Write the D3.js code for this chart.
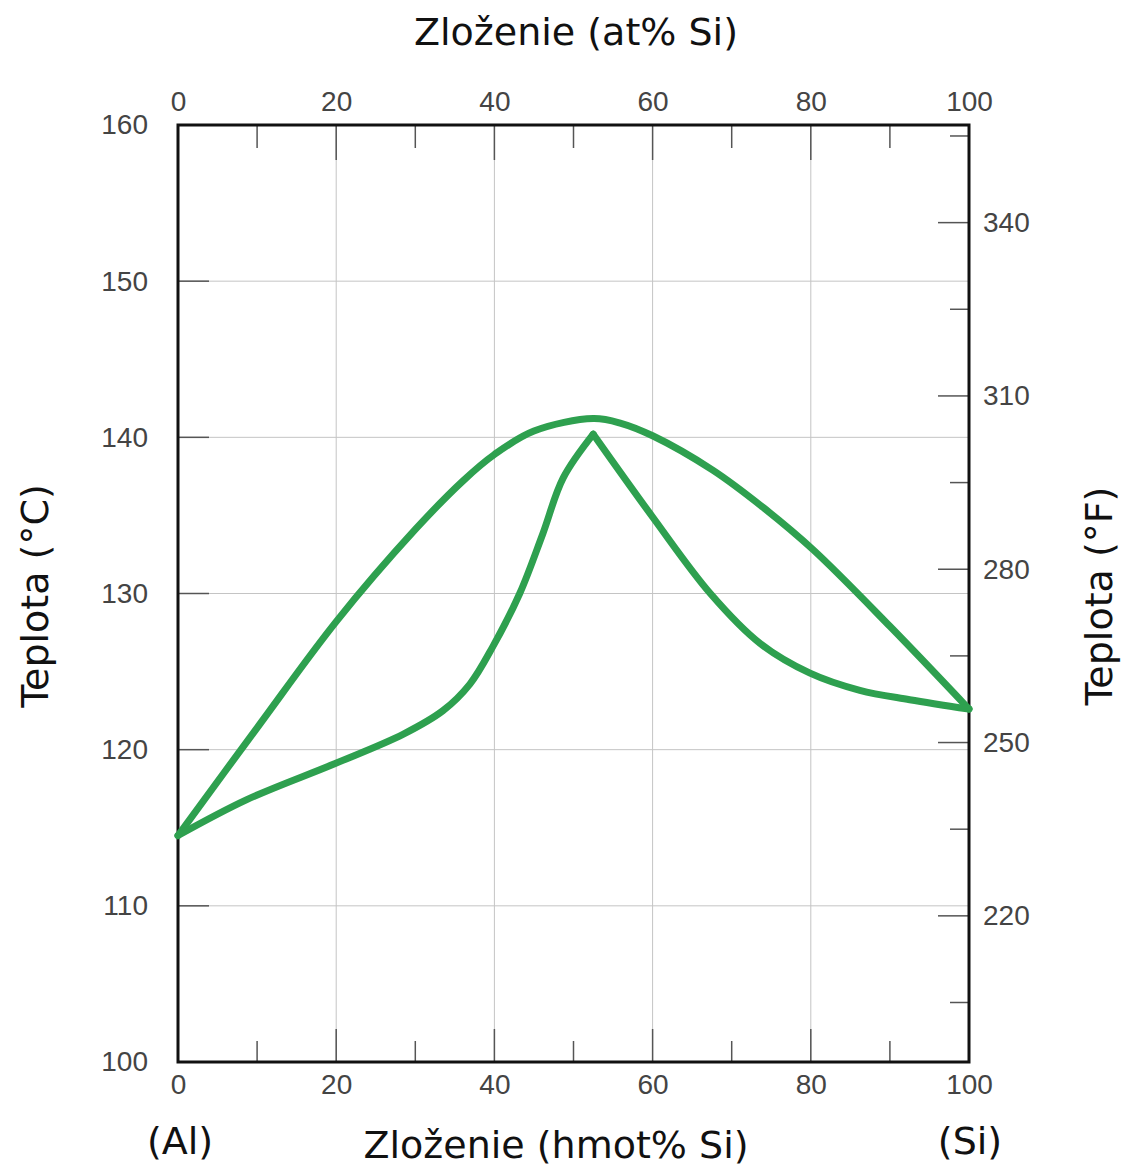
<!DOCTYPE html>
<html>
<head>
<meta charset="utf-8">
<title>Al-Si diagram</title>
<script src="https://d3js.org/d3.v7.min.js"></script>
<style>
  body { margin: 0; background: #fff; }
  .tick-label { font-family: "Liberation Sans", Arial, sans-serif; font-size: 28px; fill: #444; }
  .title { font-family: "DejaVu Sans", sans-serif; font-size: 38px; fill: #111; }
</style>
</head>
<body>
<script>
// data (x = hmot% Si, t = °C)
var liquidusX = [0, 10, 20, 30, 36, 40, 45, 52.5, 56, 60, 67.6, 74, 80.3, 90, 100];
var liquidusT = [114.5, 121.4, 128.2, 134.1, 137.2, 138.9, 140.4, 141.2, 140.9, 140.1, 137.9, 135.5, 132.8, 127.9, 122.6];
var solidusLeftX = [0, 8.7, 19.8, 28.5, 33.5, 36.9, 39.8, 43.2, 46.1, 48.7, 52.5];
var solidusLeftT = [114.5, 116.8, 119.1, 121.0, 122.5, 124.2, 126.6, 130.0, 133.8, 137.4, 140.2];
var solidusRightX = [52.5, 60, 67.3, 73.6, 79.9, 86.2, 92.5, 100];
var solidusRightT = [140.2, 134.9, 130.0, 126.8, 124.9, 123.8, 123.2, 122.6];

var xTicks = [0, 20, 40, 60, 80, 100];
var xMinorTicks = [10, 30, 50, 70, 90];
var cTicks = [100, 110, 120, 130, 140, 150, 160];
var fTicks = [220, 250, 280, 310, 340];
var fMinorTicks = [205, 235, 265, 295, 325, 355];
var fDomain = [194.7, 356.9];

var width = 1129, height = 1169;
var mLeft = 178, mRight = 969, mTop = 125, mBottom = 1062;

var svg = d3.select("body").append("svg")
    .attr("width", width).attr("height", height);

var x = d3.scaleLinear().domain([0, 100]).range([mLeft, mRight]);
var y = d3.scaleLinear().domain([100, 160]).range([mBottom, mTop]);
var yF = d3.scaleLinear().domain(fDomain).range([mBottom, mTop]);

// grid
svg.append("g").selectAll("line")
    .data(xTicks.slice(1, -1)).enter().append("line")
    .attr("x1", d => x(d)).attr("x2", d => x(d))
    .attr("y1", mTop).attr("y2", mBottom)
    .attr("stroke", "#c4c4c4").attr("stroke-width", 1);
svg.append("g").selectAll("line")
    .data(cTicks.slice(1, -1)).enter().append("line")
    .attr("x1", mLeft).attr("x2", mRight)
    .attr("y1", d => y(d)).attr("y2", d => y(d))
    .attr("stroke", "#c4c4c4").attr("stroke-width", 1);

// axis labels
var bottomAxis = d3.axisBottom(x).tickValues(xTicks).tickSize(0).tickPadding(12);
var topAxis = d3.axisTop(x).tickValues(xTicks).tickSize(0).tickPadding(14);
var leftAxis = d3.axisLeft(y).tickValues(cTicks).tickSize(0).tickPadding(30);
var rightAxis = d3.axisRight(yF).tickValues(fTicks).tickSize(0).tickPadding(14);

function styleAxis(g) {
  g.select(".domain").remove();
  g.selectAll("text").attr("class", "tick-label").attr("fill", null);
}

svg.append("g").attr("transform", "translate(0," + mBottom + ")").call(bottomAxis).call(styleAxis);
svg.append("g").attr("transform", "translate(0," + mTop + ")").call(topAxis).call(styleAxis);
svg.append("g").attr("transform", "translate(" + mLeft + ",0)").call(leftAxis).call(styleAxis);
svg.append("g").attr("transform", "translate(" + mRight + ",0)").call(rightAxis).call(styleAxis);

// tick marks drawn inward
var marks = svg.append("g").attr("stroke", "#555").attr("stroke-width", 1.5);
xTicks.slice(1, -1).forEach(function (d) {
  marks.append("line").attr("x1", x(d)).attr("x2", x(d)).attr("y1", mBottom).attr("y2", mBottom - 33);
  marks.append("line").attr("x1", x(d)).attr("x2", x(d)).attr("y1", mTop).attr("y2", mTop + 35);
});
xMinorTicks.forEach(function (d) {
  marks.append("line").attr("x1", x(d)).attr("x2", x(d)).attr("y1", mBottom).attr("y2", mBottom - 21);
  marks.append("line").attr("x1", x(d)).attr("x2", x(d)).attr("y1", mTop).attr("y2", mTop + 23);
});
cTicks.slice(1, -1).forEach(function (d) {
  marks.append("line").attr("x1", mLeft).attr("x2", mLeft + 31).attr("y1", y(d)).attr("y2", y(d));
});
fTicks.forEach(function (d) {
  marks.append("line").attr("x1", mRight).attr("x2", mRight - 31).attr("y1", yF(d)).attr("y2", yF(d));
});
fMinorTicks.forEach(function (d) {
  marks.append("line").attr("x1", mRight).attr("x2", mRight - 19).attr("y1", yF(d)).attr("y2", yF(d));
});

// frame
svg.append("rect")
    .attr("x", mLeft).attr("y", mTop)
    .attr("width", mRight - mLeft).attr("height", mBottom - mTop)
    .attr("fill", "none").attr("stroke", "#111").attr("stroke-width", 3);

// curves
var green = "#2ea04f";
function curve(xs, ts) {
  return d3.line().x(d => x(d[0])).y(d => y(d[1])).curve(d3.curveCatmullRom.alpha(0.5))(d3.zip(xs, ts));
}
[[liquidusX, liquidusT], [solidusLeftX, solidusLeftT], [solidusRightX, solidusRightT]].forEach(function (s) {
  svg.append("path")
      .attr("d", curve(s[0], s[1]))
      .attr("fill", "none").attr("stroke", green)
      .attr("stroke-width", 7).attr("stroke-linejoin", "round").attr("stroke-linecap", "round");
});

// titles
svg.append("text").attr("class", "title").attr("x", 576).attr("y", 45)
    .attr("text-anchor", "middle").text("Zloženie (at% Si)");
svg.append("text").attr("class", "title").attr("x", 556).attr("y", 1158)
    .attr("text-anchor", "middle").text("Zloženie (hmot% Si)");
svg.append("text").attr("class", "title").attr("x", 180).attr("y", 1154)
    .attr("text-anchor", "middle").text("(Al)");
svg.append("text").attr("class", "title").attr("x", 970).attr("y", 1154)
    .attr("text-anchor", "middle").text("(Si)");
svg.append("text").attr("class", "title")
    .attr("transform", "translate(48,596) rotate(-90)")
    .attr("text-anchor", "middle").text("Teplota (°C)");
svg.append("text").attr("class", "title")
    .attr("transform", "translate(1112,596) rotate(-90)")
    .attr("text-anchor", "middle").text("Teplota (°F)");
</script>
</body>
</html>
